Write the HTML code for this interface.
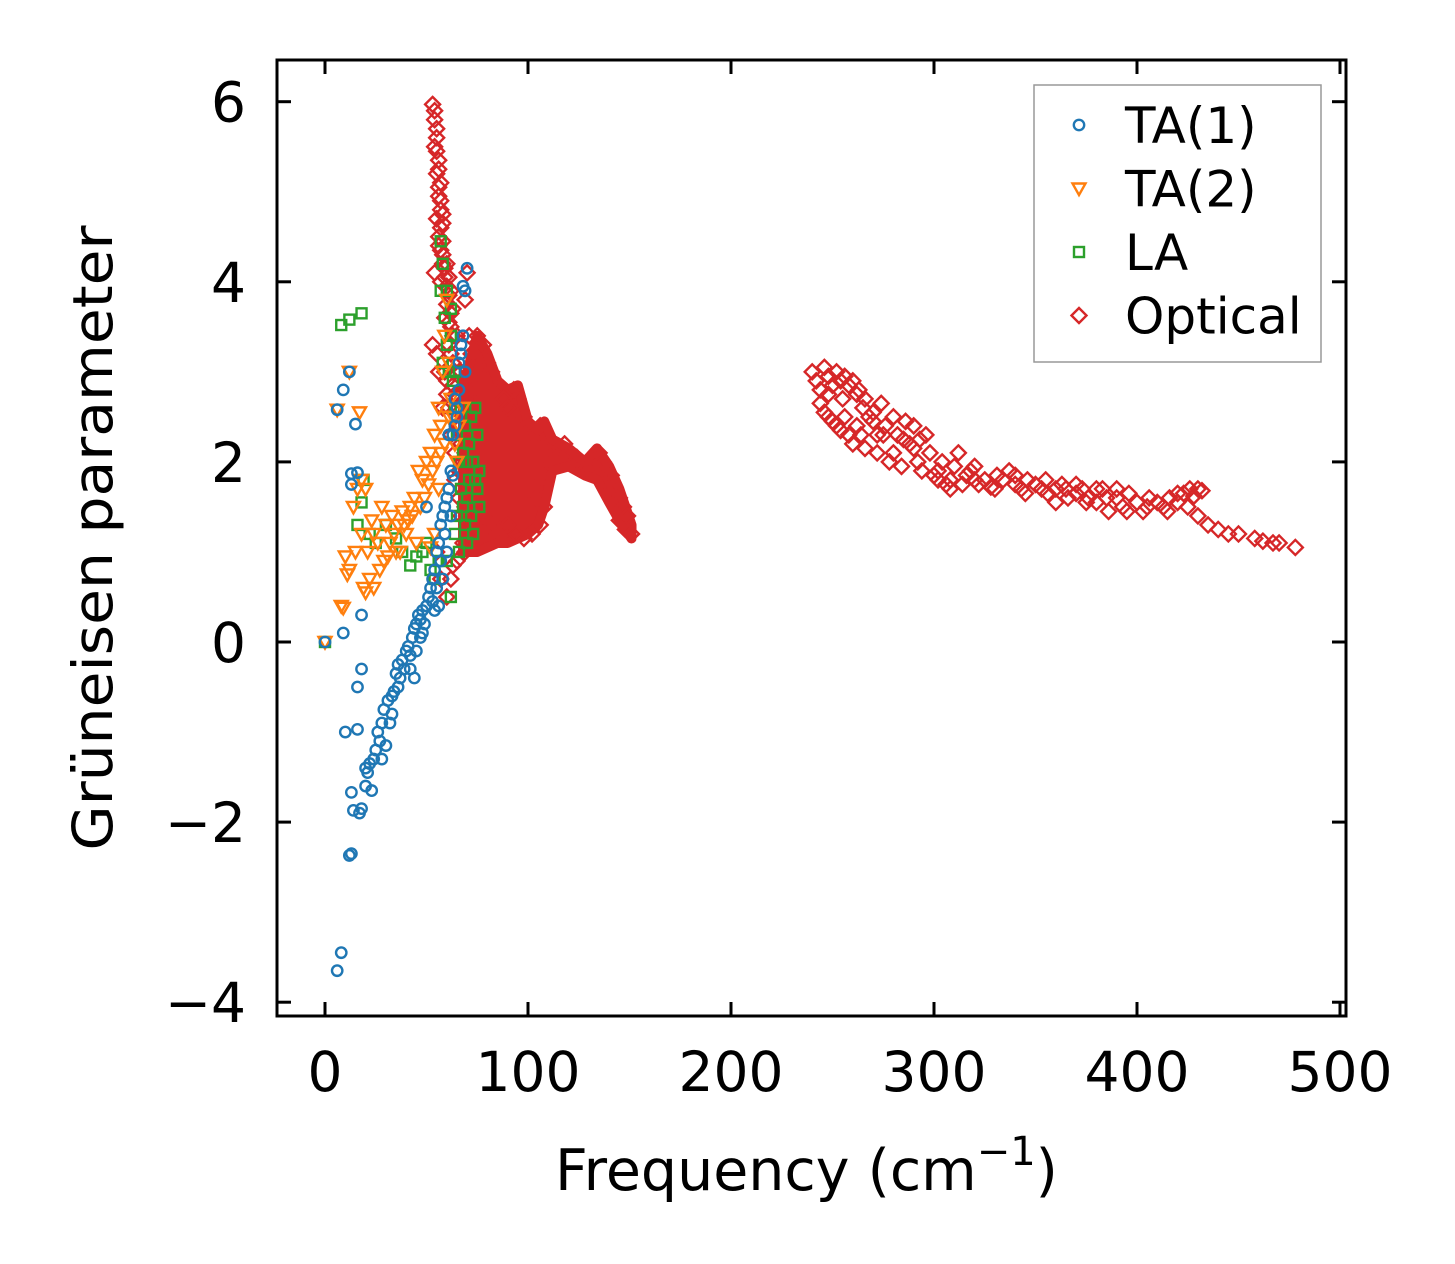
<!DOCTYPE html>
<html><head><meta charset="utf-8"><style>
html,body{margin:0;padding:0;background:#fff;}
svg{display:block;font-family:"DejaVu Sans","Liberation Sans",sans-serif;}
</style></head><body>
<svg id="chart" width="1455" height="1264" xmlns="http://www.w3.org/2000/svg">
<rect width="1455" height="1264" fill="#fff"/>
<g id="marks"></g>
<g id="axes"></g>
</svg>
<script>
const xTicks=[0,100,200,300,400,500];
const yTicks=[6,4,2,0,-2,-4];
const yTickLabels=["6","4","2","0","\u22122","\u22124"];
const ta1=[[0,0],[6,2.58],[9,2.8],[12,3.0],[15,2.42],[13,1.87],[16,1.88],[13,1.75],[18,0.3],[9,0.1],[10,-1.0],[16,-0.5],[18,-0.3],[16,-0.97],[8,-3.45],[6,-3.65],[13,-2.35],[12,-2.37],[14,-1.87],[18,-1.85],[17,-1.9],[13,-1.67],[20,-1.6],[20,-1.4],[22,-1.35],[24,-1.3],[23,-1.65],[25,-1.2],[27,-1.1],[28,-1.3],[28,-0.9],[30,-1.15],[29,-0.75],[31,-0.65],[32,-0.9],[33,-0.8],[34,-0.55],[35,-0.35],[36,-0.25],[37,-0.4],[38,-0.2],[39,-0.3],[40,-0.1],[41,-0.05],[42,-0.3],[43,0.05],[44,0.15],[45,0.2],[46,0.3],[47,0.25],[48,0.35],[50,0.4],[51,0.5],[52,0.6],[53,0.7],[54,0.8],[55,1.0],[56,1.1],[57,1.3],[58,1.4],[59,1.5],[60,1.6],[61,1.7],[62,1.9],[63,2.3],[64,2.4],[65,2.6],[66,2.8],[67,3.2],[68,3.4],[69,3.9],[70,4.15],[69,3.0],[66,3.1],[62,1.4],[60,1.0],[58,0.7],[56,0.4],[54,0.35],[50,1.5],[48,0.1],[44,-0.4],[64,2.7],[61,2.3],[68,3.95],[67,3.3],[59,1.2],[57,0.9],[55,0.6],[53,0.45],[49,0.2],[47,0.05],[45,-0.1],[42,-0.15],[36,-0.5],[33,-0.6],[26,-1.0],[21,-1.45],[63,1.85],[65,2.5]];
const ta2=[[0,0],[6,2.58],[12,3.0],[17,2.55],[9,0.38],[10,0.95],[12,0.8],[14,1.5],[16,1.7],[18,1.2],[19,0.6],[20,0.55],[21,1.0],[22,0.7],[24,1.2],[26,1.1],[27,0.8],[28,1.5],[29,0.9],[30,1.3],[32,1.1],[33,1.4],[35,1.0],[36,1.3],[38,1.45],[40,1.2],[42,1.5],[44,1.6],[46,1.9],[48,1.8],[50,2.0],[52,2.1],[54,2.3],[55,2.0],[56,2.6],[57,2.4],[58,3.0],[59,3.4],[60,3.8],[61,3.1],[62,2.7],[63,2.5],[64,2.2],[65,2.0],[66,2.4],[68,2.6],[56,1.7],[54,1.2],[52,1.05],[45,1.1],[18,1.8],[20,1.7],[15,1.0],[8,0.4],[24,0.6],[11,0.75],[34,1.2],[37,1.0],[39,1.3],[41,1.35],[43,1.4],[47,1.5],[49,1.6],[51,1.75],[53,1.9],[57,2.1],[59,2.2],[61,2.5],[31,0.95],[23,1.35]];
const la=[[0,0],[8,3.52],[12,3.58],[18,3.65],[16,1.3],[18,1.55],[19,1.8],[22,1.2],[25,1.1],[30,1.3],[35,1.15],[38,1.0],[42,0.85],[45,0.95],[48,1.0],[50,1.1],[52,0.8],[54,0.7],[56,0.9],[57,4.45],[58,4.2],[57,3.9],[59,3.6],[60,3.3],[61,3.0],[62,3.7],[63,2.9],[64,2.6],[65,2.3],[66,2.0],[67,1.7],[68,1.5],[69,1.3],[70,1.1],[71,2.2],[72,2.5],[73,2.0],[74,1.8],[75,2.3],[76,1.9],[74,2.6],[70,1.6],[66,1.0],[64,1.2],[62,0.5],[60,0.9],[76,1.5],[72,1.4],[68,2.1],[58,3.1],[60,3.9],[62,3.4],[64,3.0],[70,2.0],[73,1.2],[75,1.7],[71,1.8],[69,2.4],[67,2.6],[65,1.4]];
const optical=[[53,5.97],[54,5.9],[55,5.7],[54,5.5],[56,5.35],[55,5.2],[56,5.05],[57,4.9],[58,4.75],[57,4.6],[56,4.4],[58,4.3],[59,4.15],[57,4.0],[60,4.2],[61,4.05],[62,3.9],[60,3.75],[59,3.6],[62,3.5],[61,3.3],[53,3.3],[55,3.2],[56,3.0],[63,3.1],[60,2.9],[64,2.75],[58,2.6],[65,2.6],[66,2.4],[62,2.3],[67,2.2],[68,2.0],[64,1.8],[66,1.6],[69,1.5],[70,1.3],[68,1.1],[60,0.5],[62,0.7],[65,0.9],[55,1.0],[57,0.7],[70,4.1],[69,3.8],[71,3.4],[55,4.7],[54,4.1],[58,4.45],[63,3.7],[65,3.4],[67,3.0],[69,2.7],[71,2.9],[73,2.8],
[54,5.8],[55,5.6],[55,5.45],[56,5.25],[57,5.1],[56,4.95],[57,4.8],[58,4.65],[56,4.5],[57,4.35],[58,4.2],[59,4.05],[60,3.95],[61,3.85],[62,3.65],[61,3.55],[63,3.4],[62,3.2],[64,3.0],[63,2.85],[65,2.7],[66,2.55],[67,2.4],[68,2.3],[69,2.1],[70,1.9],[70,1.7],[59,3.0],[60,2.75],[61,2.6],[64,2.1],[66,1.9],[67,1.4],[69,1.0],[63,0.85],[72,3.2],[75,3.4],[78,3.3],[80,3.1],[82,3.0],[85,2.8],[88,2.7],[90,2.6],[93,2.8],[95,2.7],[98,2.5],[100,2.4],[103,2.3],[106,2.4],[108,2.3],[112,2.2],[116,2.15],[120,2.1],[124,2.05],[128,1.95],[132,2.05],[135,2.1],[137,2.0],[139,1.9],[141,1.85],[143,1.7],[145,1.6],[147,1.5],[149,1.4],[151,1.2],[148,1.25],[145,1.35],[140,1.7],[136,1.95],[130,1.9],[125,2.0],[118,2.2],[110,2.0],[106,1.8],[104,1.6],[108,1.5],[106,1.3],[102,1.2],[98,1.15],[94,1.2],[90,1.3],[86,1.25],[82,1.3],[78,1.2],[75,1.4],[72,1.6],
[240,3.0],[242,2.9],[244,2.8],[246,3.05],[248,2.95],[250,2.85],[252,3.0],[254,2.9],[256,2.95],[258,2.85],[260,2.9],[263,2.8],[266,2.7],[244,2.65],[246,2.55],[248,2.5],[250,2.45],[252,2.4],[254,2.35],[256,2.5],[258,2.3],[260,2.2],[262,2.4],[264,2.3],[266,2.15],[268,2.5],[270,2.55],[272,2.1],[274,2.65],[276,2.4],[278,2.0],[280,2.5],[282,2.3],[284,1.95],[286,2.45],[288,2.2],[290,2.15],[292,2.0],[294,1.9],[296,2.3],[298,2.1],[300,1.85],[302,1.8],[304,2.0],[306,1.75],[308,1.8],[310,1.95],[312,2.1],[314,1.75],[316,1.85],[318,1.9],[320,1.8],[322,1.75],[325,1.8],[328,1.72],[331,1.85],[334,1.8],[337,1.9],[340,1.75],[343,1.7],[346,1.8],[350,1.75],[353,1.7],[356,1.65],[360,1.7],[363,1.75],[366,1.6],[370,1.65],[373,1.7],[376,1.6],[380,1.55],[383,1.7],[386,1.45],[390,1.6],[393,1.5],[396,1.65],[400,1.55],[403,1.45],[406,1.6],[410,1.55],[413,1.5],[416,1.6],[420,1.55],[423,1.65],[426,1.7],[430,1.7],[432,1.68],[425,1.5],[430,1.4],[435,1.3],[440,1.25],[445,1.2],[450,1.2],[458,1.15],[462,1.12],[467,1.1],[470,1.1],[478,1.05],[265,2.6],[270,2.45],[275,2.3],[285,2.25],[290,2.4],[293,2.25],[280,2.1],[272,2.3],[262,2.75],[255,2.7],[248,2.75],[360,1.55],[370,1.75],[380,1.7],[390,1.7],[340,1.85],[320,1.95],[302,1.9],[308,1.7],[330,1.7],[345,1.65],[355,1.8],[365,1.7],[375,1.55],[385,1.6],[395,1.45],[405,1.5],[415,1.45],[420,1.65],[428,1.62]];
const blobFreq=[68,70,75,80,85,90,95,100,105,108,112,120,128,134,140,145,151];
const blobLo=[1.0,1.0,1.0,1.05,1.1,1.1,1.15,1.2,1.3,1.5,1.9,1.95,1.85,1.8,1.55,1.35,1.15];
const blobHi=[2.9,3.0,3.4,3.2,2.9,2.8,2.85,2.45,2.35,2.45,2.25,2.15,2.0,2.15,1.95,1.7,1.3];

const X0=277,X1=1346,Y0=60,Y1=1016;
function sx(v){return 325+v*2.03;}
function sy(v){return 642-v*90.05;}
const NS="http://www.w3.org/2000/svg";
const marks=document.getElementById('marks'),axes=document.getElementById('axes');
function mk(tag,attrs,parent){const e=document.createElementNS(NS,tag);for(const k in attrs)e.setAttribute(k,attrs[k]);parent.appendChild(e);return e;}
const C={ta1:"#1f77b4",ta2:"#ff7f0e",la:"#2ca02c",opt:"#d62728"};
function marker(type,x,y,col,parent){
  let e;
  if(type==='o'){e=mk('circle',{cx:x,cy:y,r:5.2,fill:'none',stroke:col,'stroke-width':2.4},parent);}
  else if(type==='v'){e=mk('path',{d:`M${x-6.5},${y-5}L${x+6.5},${y-5}L${x},${y+6.5}Z`,fill:'none',stroke:col,'stroke-width':2.4},parent);}
  else if(type==='s'){e=mk('rect',{x:x-5,y:y-5,width:10,height:10,fill:'none',stroke:col,'stroke-width':2.4},parent);}
  else {e=mk('path',{d:`M${x},${y-7.5}L${x+7.5},${y}L${x},${y+7.5}L${x-7.5},${y}Z`,fill:'none',stroke:col,'stroke-width':2.4},parent);}
  return e;
}
let pts=blobFreq.map((f,i)=>sx(f)+','+sy(blobHi[i]));
pts=pts.concat(blobFreq.slice().reverse().map((f,i)=>sx(f)+','+sy(blobLo[blobFreq.length-1-i])));
const blob=mk('polygon',{points:pts.join(' '),fill:C.opt,stroke:C.opt,'stroke-width':10,'stroke-linejoin':'round'},marks);


function series(data,type,col,name){
  const g=mk('g',{},marks);
  
  
  data.forEach(d=>{const m=marker(type,sx(d[0]),sy(d[1]),col,g);
    
    });
}
series(optical,'d',C.opt,'optical');
series(la,'s',C.la,'la');
series(ta2,'v',C.ta2,'ta2');
series(ta1,'o',C.ta1,'ta1');

const fr=mk('rect',{x:X0,y:Y0,width:X1-X0,height:Y1-Y0,fill:'none',stroke:'#000','stroke-width':3},axes);


xTicks.forEach(t=>{const x=sx(t);
  mk('line',{x1:x,y1:Y1,x2:x,y2:Y1-14,stroke:'#000','stroke-width':3},axes);
  mk('line',{x1:x,y1:Y0,x2:x,y2:Y0+14,stroke:'#000','stroke-width':3},axes);
  const tx=mk('text',{x:x,y:1091,'font-size':55,'text-anchor':'middle'},axes);tx.textContent=t;
  
  
});
yTicks.forEach((t,i)=>{const y=sy(t);
  mk('line',{x1:X0,y1:y,x2:X0+14,y2:y,stroke:'#000','stroke-width':3},axes);
  mk('line',{x1:X1,y1:y,x2:X1-14,y2:y,stroke:'#000','stroke-width':3},axes);
  const tx=mk('text',{x:246,y:y+20,'font-size':55,'text-anchor':'end'},axes);tx.textContent=yTickLabels[i];
  
  
});
const xl=mk('text',{x:555,y:1190,'font-size':57},axes);
xl.innerHTML='Frequency (cm<tspan dy="-25" font-size="40">\u22121</tspan><tspan dy="25">)</tspan>';


const yl=mk('text',{x:0,y:0,'font-size':55,'text-anchor':'middle',textLength:625,lengthAdjust:'spacingAndGlyphs',transform:'translate(112,538) rotate(-90)'},axes);
yl.textContent='Grüneisen parameter';


const lg=mk('g',{},axes);


mk('rect',{x:1034,y:85,width:287,height:277,fill:'#fff','fill-opacity':0.8,stroke:'#999','stroke-width':1.5},lg);
const legNames=["TA(1)","TA(2)","LA","Optical"],legTypes=['o','v','s','d'],legCols=[C.ta1,C.ta2,C.la,C.opt];
legNames.forEach((n,i)=>{const y=125+i*63.5;
  const e=mk('g',{},lg);
  
  
  marker(legTypes[i],1079,y,legCols[i],e);
  const t=mk('text',{x:1125,y:y+18,'font-size':50},e);t.textContent=n;});
</script>
</body></html>
